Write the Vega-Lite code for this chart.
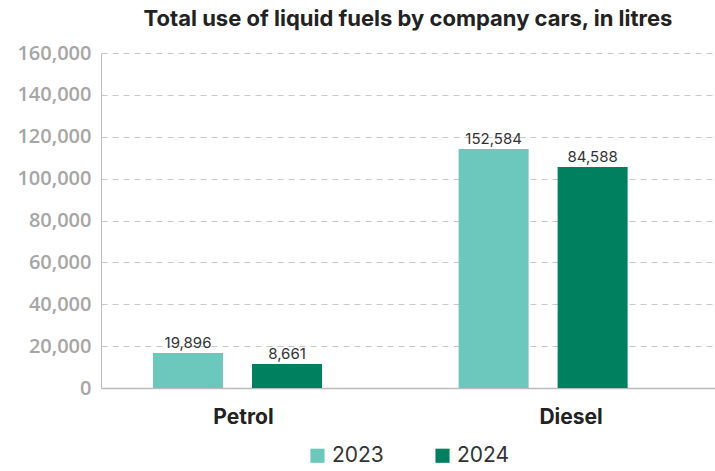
{
  "$schema": "https://vega.github.io/schema/vega-lite/v6.json",
  "width": 614,
  "height": 335,
  "autosize": "none",
  "padding": {"left": 101, "top": 53, "right": 0, "bottom": 83},
  "background": "white",
  "title": {
    "text": "Total use of liquid fuels by company cars, in litres",
    "font": "Inter",
    "fontSize": 22,
    "fontWeight": "bold",
    "color": "#222222",
    "anchor": "middle",
    "offset": 12
  },
  "data": {
    "values": [
      {"fuel": "Petrol", "year": "2023", "value": 16700, "label": "19,896"},
      {"fuel": "Petrol", "year": "2024", "value": 11450, "label": "8,661"},
      {"fuel": "Diesel", "year": "2023", "value": 114100, "label": "152,584"},
      {"fuel": "Diesel", "year": "2024", "value": 105500, "label": "84,588"}
    ]
  },
  "encoding": {
    "x": {
      "field": "fuel",
      "type": "nominal",
      "sort": ["Petrol", "Diesel"],
      "title": null,
      "scale": {"paddingInner": 0.447, "paddingOuter": 0.228, "align": 0.373},
      "axis": {
        "labelAngle": 0,
        "labelFont": "Inter",
        "labelFontSize": 21,
        "labelFontWeight": "bold",
        "labelColor": "#222222",
        "labelPadding": 18,
        "ticks": false,
        "domainColor": "#bbbbbb",
        "domainWidth": 1.5,
        "labelOffset": {"condition": {"test": "datum.value == 'Diesel'", "value": 28}, "value": 6}
      }
    },
    "xOffset": {
      "field": "year",
      "type": "nominal",
      "scale": {"paddingInner": 0.293, "paddingOuter": 0}
    },
    "y": {
      "field": "value",
      "type": "quantitative",
      "title": null,
      "scale": {"domain": [0, 160000], "nice": false},
      "axis": {
        "values": [0, 20000, 40000, 60000, 80000, 100000, 120000, 140000, 160000],
        "format": ",d",
        "labelFont": "Open Sans",
        "labelFontSize": 20,
        "labelFontWeight": 600,
        "labelColor": "#a6a6a6",
        "labelPadding": 10,
        "ticks": false,
        "domain": true,
        "domainColor": "#bbbbbb",
        "grid": true,
        "gridColor": "#c8c8c8",
        "gridDash": [6, 5],
        "gridWidth": 1
      }
    }
  },
  "layer": [
    {
      "mark": {"type": "bar"},
      "encoding": {
        "color": {
          "field": "year",
          "type": "nominal",
          "title": null,
          "scale": {"domain": ["2023", "2024"], "range": ["#6CC8BD", "#00805F"]},
          "legend": {
            "orient": "bottom",
            "direction": "horizontal",
            "symbolType": "square",
            "symbolSize": 200,
            "symbolStrokeWidth": 0,
            "labelFont": "Inter",
            "labelFontSize": 21,
            "labelColor": "#333333",
            "columnPadding": 48,
            "offset": 18
          }
        }
      }
    },
    {
      "mark": {"type": "text", "baseline": "bottom", "dy": -2, "font": "Inter", "fontSize": 15, "color": "#333333"},
      "encoding": {
        "text": {"field": "label", "type": "nominal"}
      }
    }
  ],
  "config": {
    "view": {"stroke": null},
    "legend": {"layout": {"bottom": {"anchor": "middle"}}}
  }
}
